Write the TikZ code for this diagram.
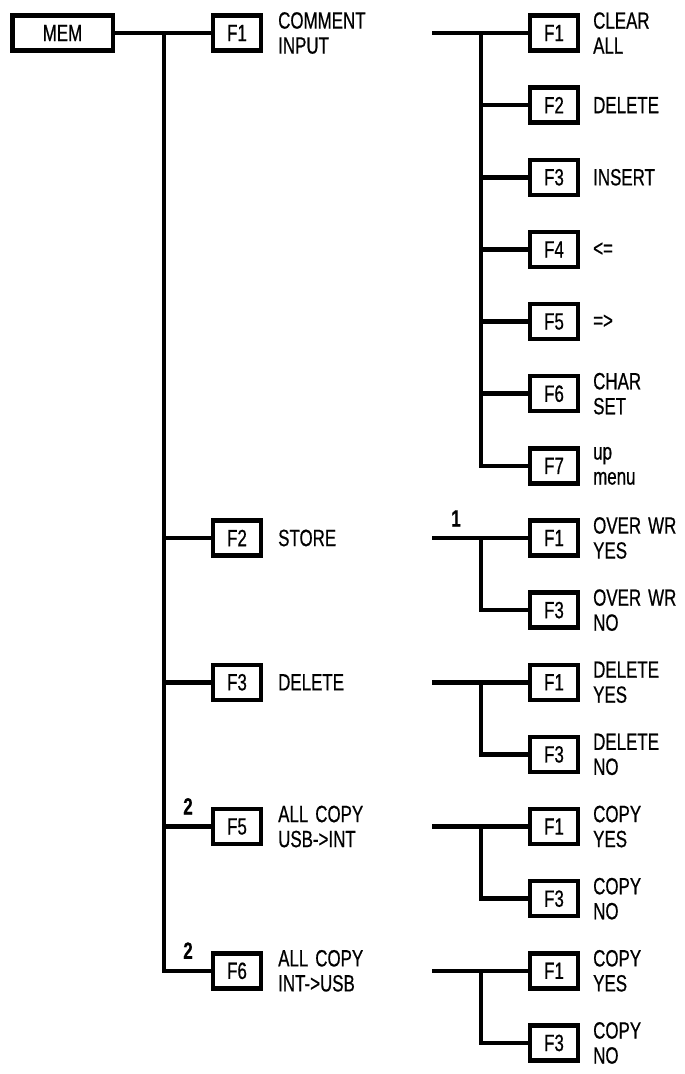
\documentclass[tikz,border=0pt]{standalone}
\usepackage{fontspec}
\setmainfont{Liberation Sans}[FakeStretch=0.72,FakeBold=0.6,BoldFeatures={FakeBold=0.6}]
\newcommand{\dfont}{\fontsize{23.5}{25}\selectfont}
\newcommand{\mygap}{\hspace{7pt}}
\begin{document}
\begin{tikzpicture}[x=1pt,y=-1pt,
  fbox/.style={draw,line width=4.5pt,minimum width=48pt,minimum height=35pt,inner sep=0pt,font=\dfont},
  wire/.style={line width=4.5pt},
  txt/.style={anchor=west,align=left,inner sep=0pt,font=\dfont},
  num/.style={anchor=base,inner sep=0pt,font=\dfont\bfseries}]
\useasboundingbox (0,0) rectangle (685,1074);

% main menu
\node[fbox,minimum width=100.5pt] (mem) at (62.5,33) {MEM};

% level 1
\node[fbox] (m1) at (237,33) {F1};
\node[fbox] (m2) at (237,537.98) {F2};
\node[fbox] (m3) at (237,682.26) {F3};
\node[fbox] (m5) at (237,826.54) {F5};
\node[fbox] (m6) at (237,970.82) {F6};
\node[txt] (t1) at (278,33) {COMMENT\\INPUT};
\node[txt] (t2) at (278,537.98) {STORE};
\node[txt] (t3) at (278,682.26) {DELETE};
\node[txt] (t5) at (278,826.54) {ALL\mygap COPY\\USB->INT};
\node[txt] (t6) at (278,970.82) {ALL\mygap COPY\\INT->USB};
\node[num] (n5) at (188,814.5) {2};
\node[num] (n6) at (188,958.8) {2};

\coordinate (j0) at (164,33);
\draw[wire] (mem.east) -- (m1.west);
\draw[wire] (j0) |- (m6.west);
\draw[wire] (m2.west -| j0) -- (m2.west);
\draw[wire] (m3.west -| j0) -- (m3.west);
\draw[wire] (m5.west -| j0) -- (m5.west);

% level 2 : comment input
\node[fbox] (a1) at (554,33) {F1};
\node[fbox] (a2) at (554,105.14) {F2};
\node[fbox] (a3) at (554,177.28) {F3};
\node[fbox] (a4) at (554,249.42) {F4};
\node[fbox] (a5) at (554,321.56) {F5};
\node[fbox] (a6) at (554,393.7) {F6};
\node[fbox] (a7) at (554,465.84) {F7};
\node[txt] (ta1) at (593,33) {CLEAR\\ALL};
\node[txt] (ta2) at (593,105.14) {DELETE};
\node[txt] (ta3) at (593,177.28) {INSERT};
\node[txt] (ta4) at (593,249.42) {<=};
\node[txt] (ta5) at (593,321.56) {=>};
\node[txt] (ta6) at (593,393.7) {CHAR\\SET};
\node[txt] (ta7) at (593,465.84) {up\\menu};
\coordinate (sa) at (432,33);
\coordinate (va) at (481,33);
\draw[wire] (sa) -- (a1.west);
\draw[wire] (va) |- (a7.west);
\foreach \n in {a2,a3,a4,a5,a6} \draw[wire] (\n.west -| va) -- (\n.west);

% level 2 : store
\node[fbox] (b1) at (554,537.98) {F1};
\node[fbox] (b3) at (554,610.12) {F3};
\node[txt] (tb1) at (593,537.98) {OVER\mygap WR\\YES};
\node[txt] (tb3) at (593,610.12) {OVER\mygap WR\\NO};
\node[num] (n1) at (456,526.5) {1};
\coordinate (sb) at (432,537.98);
\coordinate (vb) at (481,537.98);
\draw[wire] (sb) -- (b1.west);
\draw[wire] (vb) |- (b3.west);

% level 2 : delete
\node[fbox] (c1) at (554,682.26) {F1};
\node[fbox] (c3) at (554,754.4) {F3};
\node[txt] (tc1) at (593,682.26) {DELETE\\YES};
\node[txt] (tc3) at (593,754.4) {DELETE\\NO};
\coordinate (sc) at (432,682.26);
\coordinate (vc) at (481,682.26);
\draw[wire] (sc) -- (c1.west);
\draw[wire] (vc) |- (c3.west);

% level 2 : all copy usb->int
\node[fbox] (d1) at (554,826.54) {F1};
\node[fbox] (d3) at (554,898.68) {F3};
\node[txt] (td1) at (593,826.54) {COPY\\YES};
\node[txt] (td3) at (593,898.68) {COPY\\NO};
\coordinate (sd) at (432,826.54);
\coordinate (vd) at (481,826.54);
\draw[wire] (sd) -- (d1.west);
\draw[wire] (vd) |- (d3.west);

% level 2 : all copy int->usb
\node[fbox] (e1) at (554,970.82) {F1};
\node[fbox] (e3) at (554,1042.96) {F3};
\node[txt] (te1) at (593,970.82) {COPY\\YES};
\node[txt] (te3) at (593,1042.96) {COPY\\NO};
\coordinate (se) at (432,970.82);
\coordinate (ve) at (481,970.82);
\draw[wire] (se) -- (e1.west);
\draw[wire] (ve) |- (e3.west);
\end{tikzpicture}
\end{document}
